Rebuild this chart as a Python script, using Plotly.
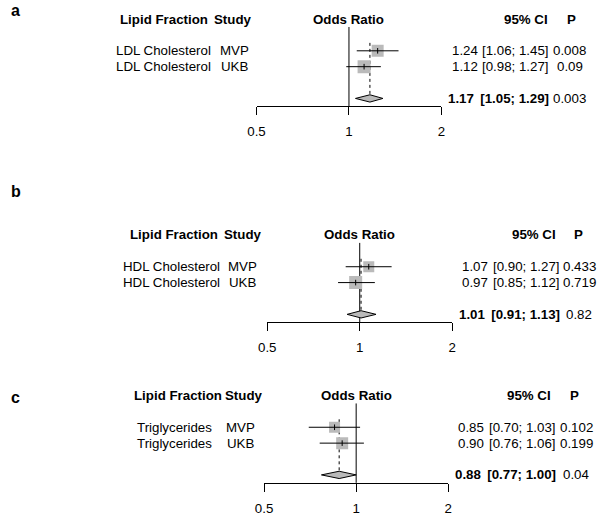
import math
import plotly.graph_objects as go

W, H = 600, 516
FONT = "Liberation Sans, Arial, Helvetica, sans-serif"
FS = 13.3

# ---- data ----
panel_labels = ["a", "b", "c"]
lipids = ["LDL Cholesterol", "HDL Cholesterol", "Triglycerides"]
studies = ["MVP", "UKB"]

odds_ratio = [[1.24, 1.12], [1.07, 0.97], [0.85, 0.90]]
ci_lower = [[1.06, 0.98], [0.90, 0.85], [0.70, 0.76]]
ci_upper = [[1.45, 1.27], [1.27, 1.12], [1.03, 1.06]]
p_values = [["0.008", "0.09"], ["0.433", "0.719"], ["0.102", "0.199"]]

pooled_or = [1.17, 1.01, 0.88]
pooled_lower = [1.05, 0.91, 0.77]
pooled_upper = [1.29, 1.13, 1.00]
pooled_p = ["0.003", "0.82", "0.04"]

tick_values = [0.5, 1, 2]
tick_labels = ["0.5", "1", "2"]
headers = ["Lipid Fraction", "Study", "Odds Ratio", "95% CI", "P"]

# ---- layout of each panel, in pixels ----
panels = [
    dict(label_y=0, row1=51.2, x_lo=253, x_hi=442, lip_h=158.4, lip_v=157.5,
         stu_h=229, stu_v=230, est=451, ci=554, ci_h=553, p_h=575, p=573, sq=[12, 13]),
    dict(label_y=182, row1=268.8, x_lo=264, x_hi=453, lip_h=168.2, lip_v=166,
         stu_h=239, stu_v=239, est=460.7, ci=565, ci_h=561, p_h=582, p=583, sq=[11, 13]),
    dict(label_y=390, row1=430.6, x_lo=260.7, x_hi=449, lip_h=172.5, lip_v=169,
         stu_h=240, stu_v=237, est=456.7, ci=561, ci_h=556, p_h=578, p=580, sq=[11, 12]),
]

ROW = 16.0            # px per row
Y_TOP, Y_BOT = -1.6, 6.3
GREY = "#bababa"
DH = 0.23             # half height of the diamond, in rows

fig = go.Figure()
annotations = []


def px_x(v):
    return v / W


for k, pan in enumerate(panels):
    sfx = "" if k == 0 else str(k + 1)
    xa, ya = "x" + sfx, "y" + sfx

    # reference line at OR = 1
    fig.add_trace(go.Scatter(x=[1, 1], y=[-0.5, 4.5], mode="lines",
                             line=dict(color="black", width=1),
                             xaxis=xa, yaxis=ya, hoverinfo="skip"))
    # dashed line at the pooled estimate
    fig.add_trace(go.Scatter(x=[pooled_or[k]] * 2, y=[0.5, 4 - DH], mode="lines",
                             line=dict(color="black", width=1, dash="3px,3px"),
                             xaxis=xa, yaxis=ya, hoverinfo="skip"))
    # study squares
    fig.add_trace(go.Scatter(x=odds_ratio[k], y=[1, 2], mode="markers",
                             marker=dict(symbol="square", size=pan["sq"], color=GREY,
                                         opacity=1, line=dict(width=0)),
                             xaxis=xa, yaxis=ya))
    # confidence intervals
    cx, cy = [], []
    for i in range(len(studies)):
        cx += [ci_lower[k][i], ci_upper[k][i], None]
        cy += [i + 1, i + 1, None]
    fig.add_trace(go.Scatter(x=cx, y=cy, mode="lines",
                             line=dict(color="black", width=1),
                             xaxis=xa, yaxis=ya, hoverinfo="skip"))
    # point estimate tick
    fig.add_trace(go.Scatter(x=odds_ratio[k], y=[1, 2], mode="markers",
                             marker=dict(symbol="line-ns-open", size=4, color="black",
                                         line=dict(color="black", width=1)),
                             xaxis=xa, yaxis=ya, hoverinfo="skip"))
    # pooled diamond
    fig.add_trace(go.Scatter(
        x=[pooled_lower[k], pooled_or[k], pooled_upper[k], pooled_or[k], pooled_lower[k]],
        y=[4, 4 - DH, 4, 4 + DH, 4], mode="lines", fill="toself", fillcolor=GREY,
        line=dict(color="black", width=1), xaxis=xa, yaxis=ya, hoverinfo="skip"))

    top_px = pan["row1"] + (Y_TOP - 1) * ROW
    bot_px = pan["row1"] + (Y_BOT - 1) * ROW
    axis_px = pan["row1"] + 3.5 * ROW

    fig.update_layout(**{
        "xaxis" + sfx: dict(
            type="log", range=[math.log10(0.5), math.log10(2)],
            domain=[px_x(pan["x_lo"]), px_x(pan["x_hi"])],
            anchor="free", position=1 - axis_px / H,
            showline=True, linecolor="black", linewidth=1,
            ticks="outside", ticklen=8, tickwidth=1, tickcolor="black",
            tickvals=tick_values, ticktext=tick_labels, ticklabelstandoff=5,
            tickfont=dict(size=FS, color="black"),
            showgrid=False, zeroline=False, fixedrange=True),
        "yaxis" + sfx: dict(
            range=[Y_BOT, Y_TOP], domain=[1 - bot_px / H, 1 - top_px / H],
            visible=False, anchor=xa, fixedrange=True),
    })

    def txt(text, x, y, anchor="center", xref="paper"):
        annotations.append(dict(text=text, x=x, y=y, xref=xref, yref=ya,
                                xanchor=anchor, yanchor="middle", showarrow=False,
                                font=dict(size=FS, color="black", family=FONT)))

    # headers
    txt("<b>%s</b>" % headers[0], px_x(pan["lip_h"]), -1)
    txt("<b>%s</b>" % headers[1], px_x(pan["stu_h"]), -1)
    txt("<b>%s</b>" % headers[2], 0, -1, xref=xa)
    txt("<b>%s</b>" % headers[3], px_x(pan["ci_h"]), -1, anchor="right")
    txt("<b>%s</b>" % headers[4], px_x(pan["p_h"]), -1)

    # study rows
    for i, st in enumerate(studies):
        y = i + 1
        txt(lipids[k], px_x(pan["lip_v"]), y)
        txt(st, px_x(pan["stu_v"]), y)
        txt("%.2f" % odds_ratio[k][i], px_x(pan["est"]), y, anchor="left")
        txt("[%.2f; %.2f]" % (ci_lower[k][i], ci_upper[k][i]), px_x(pan["ci"]), y,
            anchor="right")
        txt(p_values[k][i], px_x(pan["p"]), y)

    # pooled row
    txt("<b>%.2f \u2009[%.2f; %.2f]</b>" % (pooled_or[k], pooled_lower[k], pooled_upper[k]),
        px_x(pan["ci"]), 4, anchor="right")
    txt(pooled_p[k], px_x(pan["p"]), 4)

    # panel letter
    annotations.append(dict(text="<b>%s</b>" % panel_labels[k], x=0,
                            y=1 - pan["label_y"] / H, xref="paper", yref="paper",
                            xanchor="left", yanchor="top", showarrow=False,
                            font=dict(size=16, color="black", family=FONT)))

fig.update_layout(
    width=W, height=H,
    margin=dict(l=0, r=0, t=0, b=0),
    paper_bgcolor="white", plot_bgcolor="white",
    showlegend=False,
    font=dict(family=FONT, size=FS, color="black"),
    annotations=annotations,
)

# the page body has a default 8px margin; drop it so the figure fills the window
fig.write_html("out.html",
               config={"displayModeBar": False},
               post_script="document.body.style.margin='0';"
                           "document.body.style.overflow='hidden';")
